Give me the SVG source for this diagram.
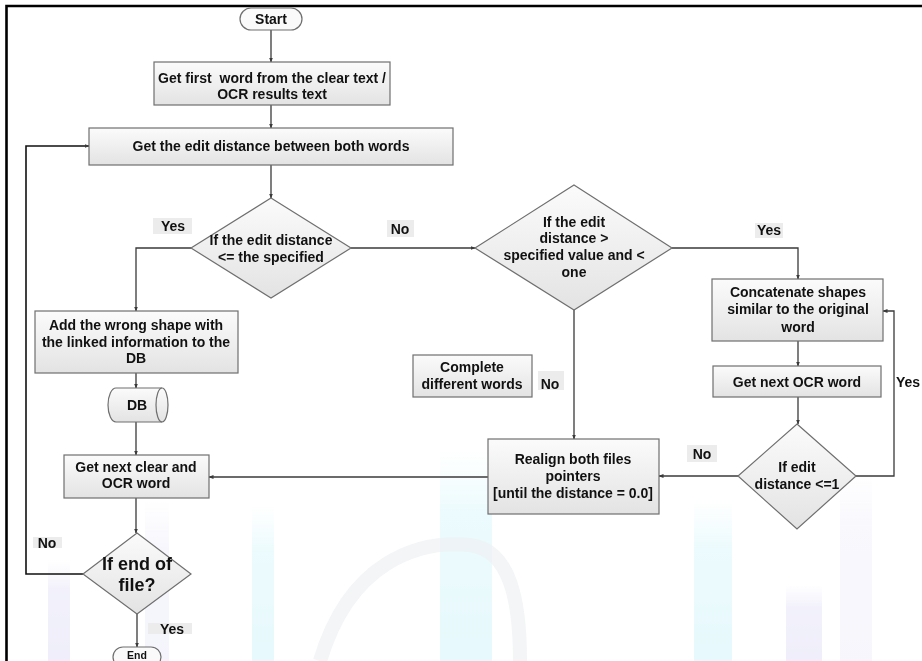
<svg xmlns="http://www.w3.org/2000/svg" width="922" height="661" viewBox="0 0 922 661">
<style>
  .box { fill: url(#gbox); stroke: #6f6f6f; stroke-width: 1.2; }
  .t { font-family: "Liberation Sans", Arial, sans-serif; font-weight: bold; font-size: 14px; fill: #111; text-anchor: middle; }
  .ts { font-family: "Liberation Sans", Arial, sans-serif; font-weight: bold; font-size: 14px; fill: #111; text-anchor: start; }
  .lbl { fill: #ececec; }
  .ca { fill: none; stroke: #3a3a3a; stroke-width: 1.3; marker-end: url(#ah); }
  .loop { fill: none; stroke: #111; stroke-width: 1.6; marker-end: url(#ah); }
  .wm { opacity: 0.3; }
</style>
<defs>
  <linearGradient id="gbox" x1="0" y1="0" x2="0" y2="1">
    <stop offset="0" stop-color="#fbfbfb"/>
    <stop offset="1" stop-color="#e3e3e3"/>
  </linearGradient>
  <linearGradient id="gcyan" x1="0" y1="0" x2="0" y2="1">
    <stop offset="0" stop-color="#c8f4fa" stop-opacity="0"/>
    <stop offset="0.3" stop-color="#bff0f8"/>
    <stop offset="1" stop-color="#aeeaf6"/>
  </linearGradient>
  <linearGradient id="gpurp" x1="0" y1="0" x2="0" y2="1">
    <stop offset="0" stop-color="#d6d4f4" stop-opacity="0"/>
    <stop offset="0.3" stop-color="#d2d0f2"/>
    <stop offset="1" stop-color="#c8c6ee"/>
  </linearGradient>
  <marker id="ah" viewBox="0 0 10 10" refX="9" refY="5" markerWidth="5" markerHeight="5" orient="auto" markerUnits="userSpaceOnUse">
    <path d="M0,1 L10,5 L0,9 Z" fill="#3a3a3a"/>
  </marker>
</defs>

<rect x="0" y="0" width="922" height="661" fill="#ffffff"/>

<g id="watermark" class="wm">
  <rect x="48" y="560" width="22" height="101" fill="url(#gpurp)"/>
  <rect x="145" y="500" width="24" height="161" fill="url(#gpurp)" opacity="0.6"/>
  <rect x="252" y="505" width="22" height="156" fill="url(#gcyan)"/>
  <rect x="440" y="450" width="52" height="211" fill="url(#gcyan)"/>
  <path d="M320,661 C350,560 420,540 470,545 C510,550 520,600 520,661" fill="none" stroke="#c4ccd8" stroke-width="14" opacity="0.7"/>
  <rect x="694" y="500" width="38" height="161" fill="url(#gcyan)"/>
  <rect x="786" y="585" width="36" height="76" fill="url(#gpurp)"/>
  <rect x="840" y="470" width="32" height="191" fill="url(#gpurp)" opacity="0.5"/>
</g>

<g id="frame">
  <path d="M6.5,661 V6 H922" fill="none" stroke="#000" stroke-width="2.6"/>
</g>

<g id="connectors">
  <path class="ca" d="M271,30 V62"/>
  <path class="ca" d="M271,105 V128"/>
  <path class="ca" d="M271,165 V198"/>
  <path class="ca" d="M191,248 H136 V311"/>
  <path class="ca" d="M351,248 H475"/>
  <path class="ca" d="M136,373 V388"/>
  <path class="ca" d="M136,422 V455"/>
  <path class="ca" d="M136,498 V533"/>
  <path class="loop" d="M83,574 H26 V146 H89"/>
  <path class="ca" d="M137,614 V647"/>
  <path class="ca" d="M672,248 H798 V279"/>
  <path class="ca" d="M798,341 V366"/>
  <path class="ca" d="M798,397 V424"/>
  <path class="ca" d="M856,476 H894 V311 H883"/>
  <path class="ca" d="M738,476 H659"/>
  <path class="ca" d="M574,310 V439"/>
  <path class="ca" d="M488,477 H209"/>
</g>

<g id="labels">
  <rect class="lbl" x="153" y="218" width="39" height="16"/>
  <text class="t" x="173" y="231">Yes</text>
  <rect class="lbl" x="387" y="220" width="27" height="17"/>
  <text class="t" x="400" y="234">No</text>
  <rect class="lbl" x="755" y="223" width="28" height="15"/>
  <text class="t" x="769" y="235">Yes</text>
  <text class="ts" x="896" y="387">Yes</text>
  <rect class="lbl" x="687" y="445" width="30" height="17"/>
  <text class="t" x="702" y="459">No</text>
  <rect class="lbl" x="538" y="371" width="26" height="19"/>
  <text class="t" x="550" y="389">No</text>
  <rect class="lbl" x="33" y="537" width="29" height="11"/>
  <text class="t" x="47" y="548">No</text>
  <rect class="lbl" x="148" y="623" width="44" height="11"/>
  <text class="t" x="172" y="634">Yes</text>
</g>

<g id="start">
  <rect class="box" x="240" y="8" width="62" height="22" rx="11" style="fill:#fafafa"/>
  <text class="t" x="271" y="24">Start</text>
</g>

<g id="first-word">
  <rect class="box" x="154" y="62" width="236" height="43"/>
  <text class="t" x="272" y="83" xml:space="preserve">Get first  word from the clear text /</text>
  <text class="t" x="272" y="99">OCR results text</text>
</g>

<g id="edit-distance">
  <rect class="box" x="89" y="128" width="364" height="37"/>
  <text class="t" x="271" y="151">Get the edit distance between both words</text>
</g>

<g id="decision-specified">
  <polygon class="box" points="271,198 351,248 271,298 191,248"/>
  <text class="t" x="271" y="245">If the edit distance</text>
  <text class="t" x="271" y="262">&lt;= the specified</text>
</g>

<g id="add-wrong-shape">
  <rect class="box" x="35" y="311" width="203" height="62"/>
  <text class="t" x="136" y="330">Add the wrong shape with</text>
  <text class="t" x="136" y="347">the linked information to the</text>
  <text class="t" x="136" y="363">DB</text>
</g>

<g id="db">
  <path class="box" d="M116,388 H162 A6,17 0 0 1 162,422 H116 A8,17 0 0 1 116,388 Z"/>
  <path d="M162,388 A6,17 0 0 0 162,422" fill="none" stroke="#6f6f6f" stroke-width="1.2"/>
  <text class="t" x="137" y="410">DB</text>
</g>

<g id="next-clear">
  <rect class="box" x="64" y="455" width="145" height="43"/>
  <text class="t" x="136" y="472">Get next clear and</text>
  <text class="t" x="136" y="488">OCR word</text>
</g>

<g id="end-of-file">
  <polygon class="box" points="137,533 191,574 137,614 83,574"/>
  <text class="t" x="137" y="570" style="font-size:18px">If end of</text>
  <text class="t" x="137" y="591" style="font-size:18px">file?</text>
</g>

<g id="end">
  <rect class="box" x="113" y="647" width="48" height="20" rx="10" style="fill:#fafafa"/>
  <text class="t" x="137" y="659" style="font-size:10.5px">End</text>
</g>

<g id="decision-range">
  <polygon class="box" points="574,185 672,248 574,310 475,248"/>
  <text class="t" x="574" y="227">If the edit</text>
  <text class="t" x="574" y="243">distance &gt;</text>
  <text class="t" x="574" y="260">specified value and &lt;</text>
  <text class="t" x="574" y="277">one</text>
</g>

<g id="complete-different">
  <rect class="box" x="413" y="355" width="119" height="42"/>
  <text class="t" x="472" y="372">Complete</text>
  <text class="t" x="472" y="389">different words</text>
</g>

<g id="concatenate">
  <rect class="box" x="712" y="279" width="171" height="62"/>
  <text class="t" x="798" y="297">Concatenate shapes</text>
  <text class="t" x="798" y="314">similar to the original</text>
  <text class="t" x="798" y="332">word</text>
</g>

<g id="next-ocr">
  <rect class="box" x="713" y="366" width="168" height="31"/>
  <text class="t" x="797" y="387">Get next OCR word</text>
</g>

<g id="decision-le1">
  <polygon class="box" points="797,424 856,476 797,529 738,476"/>
  <text class="t" x="797" y="472">If edit</text>
  <text class="t" x="797" y="489">distance &lt;=1</text>
</g>

<g id="realign">
  <rect class="box" x="488" y="439" width="171" height="75"/>
  <text class="t" x="573" y="464">Realign both files</text>
  <text class="t" x="573" y="481">pointers</text>
  <text class="t" x="573" y="498">[until the distance = 0.0]</text>
</g>
</svg>
